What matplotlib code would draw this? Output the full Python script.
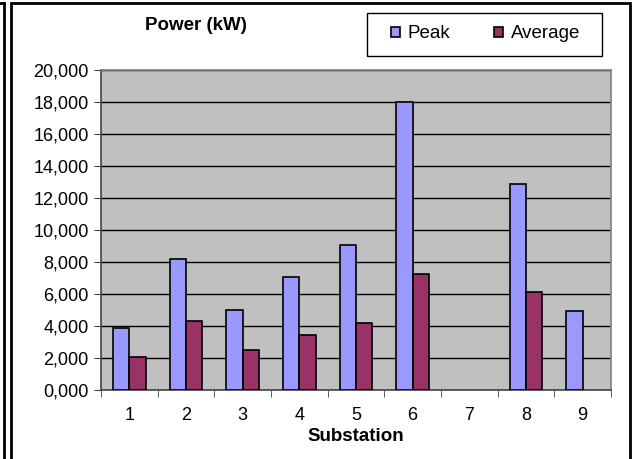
import matplotlib.pyplot as plt
from matplotlib.patches import Rectangle
from matplotlib.lines import Line2D
import numpy as np

plt.rcParams['font.family'] = ['Liberation Sans', 'DejaVu Sans']

substations = ['1', '2', '3', '4', '5', '6', '7', '8', '9']
peak = [3850, 8200, 5000, 7050, 9050, 18000, 0, 12900, 4950]
average = [2050, 4300, 2500, 3450, 4200, 7250, 0, 6100, 0]
y_ticks = [0, 2000, 4000, 6000, 8000, 10000, 12000, 14000, 16000, 18000, 20000]
y_labels = ['0,000', '2,000', '4,000', '6,000', '8,000', '10,000',
            '12,000', '14,000', '16,000', '18,000', '20,000']

W, H = 635, 459
fig = plt.figure(figsize=(W / 100, H / 100), dpi=100)

# outer borders
fig.add_artist(Rectangle((11 / W, -0.05), 619 / W, 1.05 - 3 / H, transform=fig.transFigure,
                         fill=False, edgecolor='black', linewidth=2))
fig.add_artist(Line2D([4 / W, 4 / W], [0, 1 - 3 / H], transform=fig.transFigure,
                      color='black', linewidth=2))
fig.add_artist(Line2D([0, 4 / W], [1 - 3 / H, 1 - 3 / H], transform=fig.transFigure,
                      color='black', linewidth=2))

ax = fig.add_axes([101 / W, (H - 390) / H, 510 / W, 320 / H])
ax.set_facecolor('#C0C0C0')

x = np.arange(len(substations))
bw = 0.29
nz = [i for i in x if peak[i] > 0]
ax.bar([i - bw / 2 for i in nz], [peak[i] for i in nz], bw, color='#9999FF',
       edgecolor='black', linewidth=1.2, label='Peak', zorder=3)
nz = [i for i in x if average[i] > 0]
ax.bar([i + bw / 2 for i in nz], [average[i] for i in nz], bw, color='#993366',
       edgecolor='black', linewidth=1.2, label='Average', zorder=3)

ax.set_xlim(-0.5, len(substations) - 0.5)
ax.set_ylim(0, 20000)
ax.set_yticks(y_ticks)
ax.set_yticklabels(y_labels, fontsize=13)
ax.yaxis.grid(True, color='black', linewidth=1, zorder=1)
ax.set_axisbelow(True)

ax.set_xticks(x)
ax.set_xticklabels(substations, fontsize=13)
ax.set_xticks(np.arange(-0.5, len(substations)), minor=True)
ax.tick_params(axis='x', which='major', length=0, pad=12)
ax.tick_params(axis='x', which='minor', length=5, color='#444444')
ax.tick_params(axis='y', length=5, color='#444444', pad=4)

for s in ['top', 'right']:
    ax.spines[s].set_color('#808080')
ax.spines['left'].set_color('#444444')
ax.spines['bottom'].set_color('#444444')
for s in ax.spines.values():
    s.set_linewidth(1.2)

ax.set_xlabel('Substation', fontsize=13.5, fontweight='bold', labelpad=3)
fig.text(196 / W, 1 - 25 / H, 'Power (kW)', fontsize=13.5, fontweight='bold',
         ha='center', va='center')

# legend box drawn separately for the wide Excel-style padding
fig.add_artist(Rectangle((367 / W, 1 - 56 / H), 235 / W, 43 / H, transform=fig.transFigure,
                         fill=False, edgecolor='black', linewidth=1))
leg = fig.legend(loc='center left', bbox_to_anchor=(391 / W, 1 - 34 / H), ncol=2,
                 fontsize=13.5, frameon=False,
                 handlelength=0.5, handleheight=0.5, columnspacing=2.3,
                 borderpad=0, handletextpad=0.4, borderaxespad=0)

fig.savefig('out.png', dpi=100)
